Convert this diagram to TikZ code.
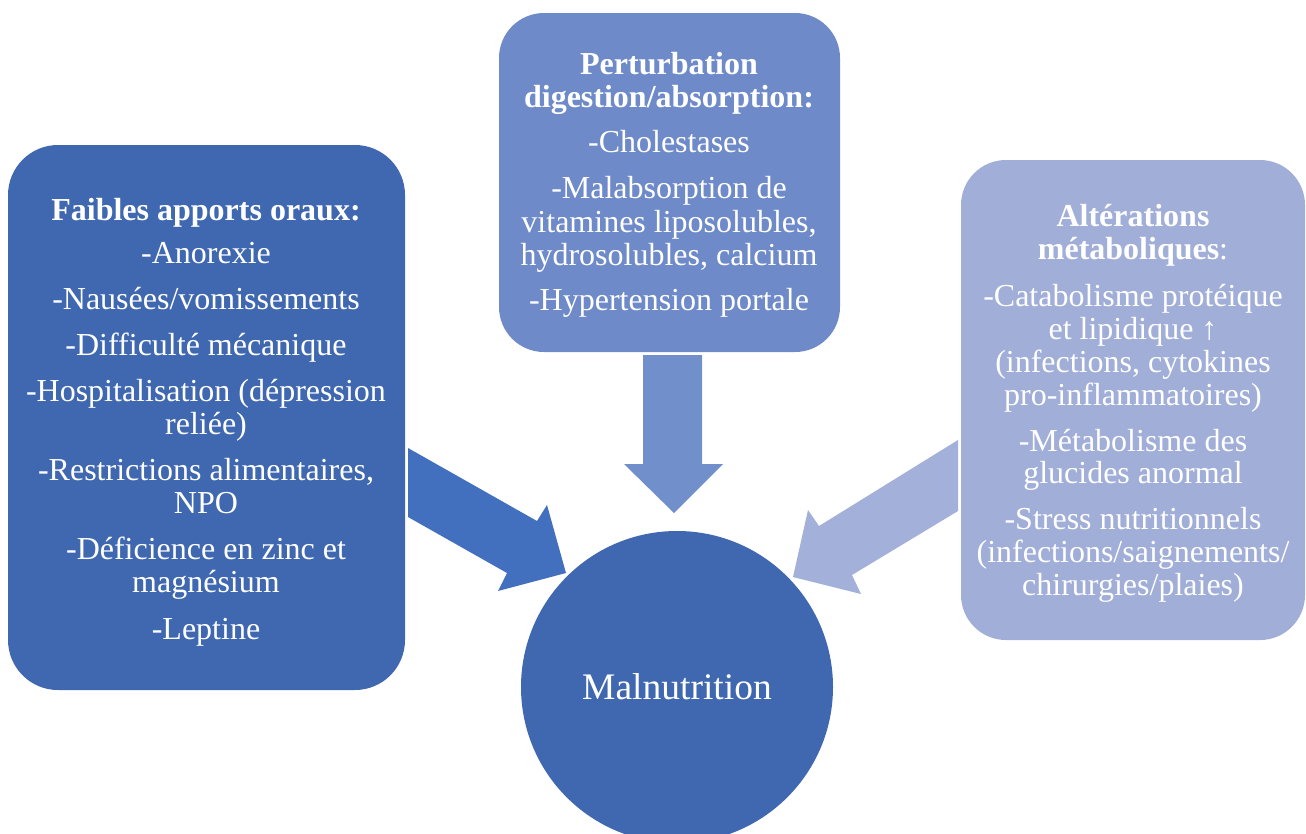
\documentclass[tikz,border=0pt]{standalone}
\usepackage{fontspec}
\setmainfont{Liberation Serif}
\definecolor{cA}{RGB}{63,104,176}
\definecolor{cB}{RGB}{110,138,200}
\definecolor{cC}{RGB}{160,174,216}
\definecolor{arA}{RGB}{66,112,190}
\definecolor{arB}{RGB}{113,143,203}
\definecolor{arC}{RGB}{162,176,218}
\begin{document}
\begin{tikzpicture}[x=1pt,y=-1pt,
  box/.style={rectangle,draw=none,inner sep=0,minimum width=#1},
  txt/.style={text=white,font=\fontsize{32}{34}\selectfont,anchor=base,inner sep=0},
  hd/.style={text=white,font=\fontsize{32}{34}\selectfont\bfseries,anchor=base,inner sep=0}]
\useasboundingbox (0,0) rectangle (1306,833);
\clip (0,0) rectangle (1306,833);
% boxes
\node[box=397,minimum height=545,rounded corners=50,fill=cA] (left) at (206.5,417.5) {};
\node[box=341,minimum height=339,rounded corners=45,fill=cB] (mid) at (669.5,182.5) {};
\node[box=344,minimum height=480,rounded corners=45,fill=cC] (right) at (1133,400) {};
\node[circle,fill=cA,minimum size=312,inner sep=0,text=white,font=\fontsize{37.5}{40}\selectfont] (mal) at (677,687) {Malnutrition};
% arrows
\fill[arA] (408,448) -- (537,521) -- (547,505) -- (566,573) -- (498,591) -- (507,573) -- (408,517) -- cycle;
\fill[arB] (643,355) -- (702,355) -- (702,464) -- (723,464) -- (674,513) -- (624,464) -- (643,464) -- cycle;
\fill[arC] (958,440) -- (819,526) -- (808,510) -- (793,577) -- (861,594) -- (852,575) -- (958,511) -- cycle;
% left text
\node[hd] (l0) at (206,220) {Faibles apports oraux:};
\node[txt] (l1) at (206,263) {-Anorexie};
\node[txt] (l2) at (206,309) {-Nausées/vomissements};
\node[txt] (l3) at (206,355) {-Difficulté mécanique};
\node[txt] (l4) at (206,401) {-Hospitalisation (dépression};
\node[txt] (l5) at (206,434) {reliée)};
\node[txt] (l6) at (206,480) {-Restrictions alimentaires,};
\node[txt] (l7) at (206,513) {NPO};
\node[txt] (l8) at (206,559) {-Déficience en zinc et};
\node[txt] (l9) at (206,592) {magnésium};
\node[txt] (l10) at (206,639) {-Leptine};
% middle text
\node[hd] (m0) at (669,74) {Perturbation};
\node[hd] (m1) at (669,107) {digestion/absorption:};
\node[txt] (m2) at (669,152) {-Cholestases};
\node[txt] (m3) at (669,198) {-Malabsorption de};
\node[txt] (m4) at (669,232) {vitamines liposolubles,};
\node[txt] (m5) at (669,265) {hydrosolubles, calcium};
\node[txt] (m6) at (669,310) {-Hypertension portale};
% right text
\node[hd] (r0) at (1133,226) {Altérations};
\node[txt] (r1) at (1133,259) {\textbf{métaboliques}:};
\node[txt] (r2) at (1133,306) {-Catabolisme protéique};
\node[txt] (r3) at (1133,339) {et lipidique ↑};
\node[txt] (r4) at (1133,372) {(infections, cytokines};
\node[txt] (r5) at (1133,405) {pro-inflammatoires)};
\node[txt] (r6) at (1133,451) {-Métabolisme des};
\node[txt] (r7) at (1133,483) {glucides anormal};
\node[txt] (r8) at (1133,529) {-Stress nutritionnels};
\node[txt] (r9) at (1133,562) {(infections/saignements/};
\node[txt] (r10) at (1133,595) {chirurgies/plaies)};
\end{tikzpicture}
\end{document}
